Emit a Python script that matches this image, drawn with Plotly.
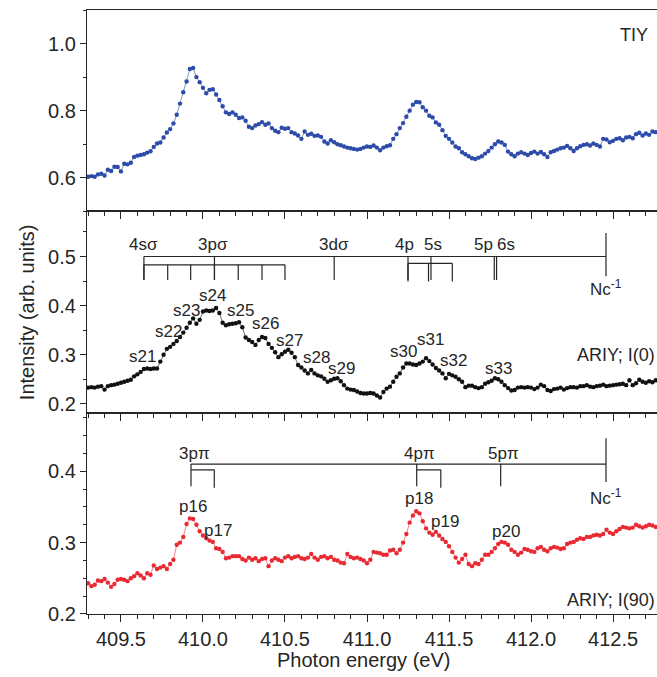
import numpy as np
import plotly.graph_objects as go

# ---------------- data ----------------
energy = np.round(409.30 + 0.02 * np.arange(174), 2)

tiy = [0.603, 0.605, 0.603, 0.610, 0.612, 0.607, 0.624, 0.620, 0.633, 0.632,
       0.619, 0.642, 0.640, 0.645, 0.662, 0.666, 0.668, 0.670, 0.675, 0.679,
       0.692, 0.702, 0.705, 0.720, 0.735, 0.745, 0.762, 0.788, 0.821, 0.855,
       0.887, 0.924, 0.927, 0.900, 0.885, 0.868, 0.852, 0.862, 0.864, 0.848,
       0.832, 0.813, 0.795, 0.790, 0.795, 0.788, 0.778, 0.780, 0.770, 0.752,
       0.748, 0.756, 0.760, 0.766, 0.758, 0.762, 0.748, 0.740, 0.736, 0.749,
       0.746, 0.748, 0.736, 0.732, 0.726, 0.716, 0.738, 0.728, 0.731, 0.725,
       0.726, 0.722, 0.708, 0.702, 0.712, 0.706, 0.700, 0.697, 0.693, 0.690,
       0.688, 0.686, 0.684, 0.686, 0.690, 0.693, 0.692, 0.696, 0.690, 0.682,
       0.690, 0.694, 0.697, 0.716, 0.730, 0.748, 0.763, 0.782, 0.800, 0.818,
       0.826, 0.825, 0.810, 0.800, 0.785, 0.780, 0.765, 0.758, 0.742, 0.725,
       0.716, 0.705, 0.693, 0.688, 0.676, 0.670, 0.664, 0.658, 0.656, 0.660,
       0.664, 0.672, 0.680, 0.690, 0.700, 0.708, 0.705, 0.698, 0.678, 0.670,
       0.664, 0.672, 0.676, 0.672, 0.668, 0.674, 0.678, 0.672, 0.677, 0.670,
       0.662, 0.676, 0.680, 0.684, 0.688, 0.690, 0.695, 0.688, 0.680, 0.688,
       0.694, 0.698, 0.700, 0.696, 0.702, 0.698, 0.693, 0.716, 0.714, 0.706,
       0.710, 0.716, 0.718, 0.712, 0.720, 0.722, 0.718, 0.730, 0.734, 0.726,
       0.732, 0.728, 0.738, 0.736]

ariy0 = [0.233, 0.234, 0.233, 0.235, 0.236, 0.229, 0.236, 0.238, 0.239, 0.241,
         0.243, 0.245, 0.247, 0.249, 0.256, 0.260, 0.265, 0.271, 0.272, 0.271,
         0.272, 0.272, 0.286, 0.300, 0.312, 0.316, 0.322, 0.328, 0.336, 0.345,
         0.355, 0.365, 0.374, 0.363, 0.371, 0.388, 0.390, 0.389, 0.390, 0.395,
         0.385, 0.365, 0.360, 0.362, 0.363, 0.364, 0.366, 0.356, 0.335, 0.330,
         0.326, 0.320, 0.330, 0.336, 0.334, 0.322, 0.314, 0.305, 0.295, 0.301,
         0.306, 0.310, 0.304, 0.295, 0.279, 0.274, 0.268, 0.262, 0.269, 0.262,
         0.258, 0.256, 0.251, 0.245, 0.248, 0.251, 0.252, 0.246, 0.238, 0.231,
         0.229, 0.228, 0.225, 0.222, 0.221, 0.221, 0.222, 0.221, 0.217, 0.213,
         0.224, 0.231, 0.235, 0.245, 0.255, 0.262, 0.274, 0.282, 0.282, 0.280,
         0.279, 0.282, 0.286, 0.293, 0.287, 0.280, 0.273, 0.268, 0.262, 0.252,
         0.261, 0.258, 0.255, 0.250, 0.245, 0.234, 0.237, 0.237, 0.234, 0.232,
         0.234, 0.241, 0.244, 0.247, 0.252, 0.250, 0.245, 0.238, 0.232, 0.227,
         0.228, 0.233, 0.234, 0.233, 0.234, 0.233, 0.230, 0.233, 0.239, 0.236,
         0.228, 0.226, 0.230, 0.231, 0.233, 0.229, 0.232, 0.234, 0.234, 0.233,
         0.236, 0.236, 0.238, 0.235, 0.234, 0.236, 0.237, 0.239, 0.236, 0.237,
         0.238, 0.239, 0.240, 0.241, 0.238, 0.248, 0.238, 0.242, 0.249, 0.245,
         0.243, 0.246, 0.244, 0.248]

ariy90 = [0.243, 0.239, 0.241, 0.247, 0.246, 0.249, 0.244, 0.238, 0.242, 0.248,
          0.249, 0.248, 0.246, 0.250, 0.253, 0.257, 0.254, 0.250, 0.257, 0.255,
          0.268, 0.263, 0.265, 0.267, 0.263, 0.270, 0.276, 0.297, 0.300, 0.308,
          0.326, 0.334, 0.333, 0.325, 0.316, 0.310, 0.306, 0.303, 0.301, 0.292,
          0.291, 0.287, 0.278, 0.279, 0.281, 0.281, 0.281, 0.277, 0.275, 0.279,
          0.276, 0.278, 0.274, 0.277, 0.278, 0.267, 0.275, 0.278, 0.276, 0.274,
          0.279, 0.281, 0.278, 0.280, 0.281, 0.278, 0.277, 0.279, 0.284, 0.279,
          0.276, 0.280, 0.281, 0.278, 0.280, 0.276, 0.275, 0.272, 0.271, 0.284,
          0.280, 0.278, 0.279, 0.277, 0.275, 0.271, 0.276, 0.287, 0.286, 0.285,
          0.283, 0.283, 0.289, 0.290, 0.285, 0.290, 0.300, 0.312, 0.328, 0.338,
          0.344, 0.341, 0.330, 0.320, 0.314, 0.311, 0.315, 0.310, 0.305, 0.301,
          0.295, 0.287, 0.279, 0.272, 0.277, 0.283, 0.270, 0.267, 0.271, 0.270,
          0.276, 0.283, 0.283, 0.287, 0.292, 0.298, 0.301, 0.300, 0.297, 0.290,
          0.287, 0.283, 0.286, 0.291, 0.290, 0.288, 0.287, 0.292, 0.294, 0.290,
          0.288, 0.292, 0.294, 0.293, 0.291, 0.292, 0.298, 0.300, 0.301, 0.304,
          0.306, 0.305, 0.308, 0.308, 0.310, 0.311, 0.310, 0.312, 0.318, 0.314,
          0.312, 0.316, 0.319, 0.322, 0.321, 0.320, 0.321, 0.325, 0.323, 0.321,
          0.323, 0.325, 0.324, 0.322]

# Rydberg level assignments (energies, eV)
sig_long = [409.64, 410.07, 410.80, 411.25, 411.39, 411.776, 411.79]
sig_sub_4s = [409.64, 409.785, 409.925, 410.07, 410.215, 410.36, 410.50]
sig_sub_4p = [411.25, 411.375, 411.52]
sig_labels = [(409.64, "4sσ"), (410.06, "3pσ"), (410.80, "3dσ"),
              (411.23, "4p"), (411.40, "5s"), (411.71, "5p"), (411.85, "6s")]
pi_long = [409.927, 411.303, 411.815]
pi_sub = [[409.927, 410.069], [411.303, 411.45]]
pi_labels = [(409.95, "3pπ"), (411.32, "4pπ"), (411.83, "5pπ")]
nc_limit = 412.457

s_peaks = [(409.63, 0.297, "s21"), (409.79, 0.348, "s22"), (409.90, 0.391, "s23"),
           (410.06, 0.420, "s24"), (410.226, 0.391, "s25"), (410.38, 0.363, "s26"),
           (410.53, 0.329, "s27"), (410.69, 0.295, "s28"), (410.846, 0.272, "s29"),
           (411.22, 0.306, "s30"), (411.39, 0.330, "s31"), (411.53, 0.288, "s32"),
           (411.80, 0.272, "s33")]
p_peaks = [(409.94, 0.350, "p16"), (410.09, 0.317, "p17"), (411.32, 0.362, "p18"),
           (411.476, 0.330, "p19"), (411.85, 0.315, "p20")]

# ---------------- figure ----------------
FONT = "Liberation Sans, Arial, sans-serif"
TXT = "#262626"
LINE = "#262626"

fig = go.Figure()
fig.add_trace(go.Scatter(x=energy, y=tiy, mode="lines+markers", xaxis="x3", yaxis="y",
                         line=dict(color="rgba(45,75,170,0.75)", width=0.8),
                         marker=dict(color="#2d4ba8", size=4.4)))
fig.add_trace(go.Scatter(x=energy, y=ariy0, mode="lines+markers", xaxis="x2", yaxis="y2",
                         line=dict(color="rgba(0,0,0,0.7)", width=0.8),
                         marker=dict(color="#111111", size=4.4)))
fig.add_trace(go.Scatter(x=energy, y=ariy90, mode="lines+markers", xaxis="x", yaxis="y3",
                         line=dict(color="rgba(235,40,50,0.75)", width=0.8),
                         marker=dict(color="#ea2a33", size=4.4)))

xr = [409.293, 412.768]
xcommon = dict(range=xr, showline=True, linecolor=LINE, linewidth=1.2, mirror=True,
               ticks="outside", ticklen=7, tickwidth=1.2, tickcolor=LINE, dtick=0.5, tick0=409.5,
               minor=dict(dtick=0.1, ticks="outside", ticklen=4, tickwidth=1.2, tickcolor=LINE),
               showgrid=False, zeroline=False)
ycommon = dict(showline=True, linecolor=LINE, linewidth=1.2, mirror=False,
               ticks="outside", ticklen=6, tickwidth=1.2, tickcolor=LINE,
               showgrid=False, zeroline=False, tickformat=".1f",
               tickfont=dict(family=FONT, size=20, color=TXT))

fig.update_layout(
    width=657, height=677, margin=dict(l=87, r=0, t=10, b=63),
    paper_bgcolor="white", plot_bgcolor="white", showlegend=False,
    font=dict(family=FONT, color=TXT),
    xaxis=dict(xcommon, anchor="y3", showticklabels=True,
               tickfont=dict(family=FONT, size=20, color=TXT), tickformat=".1f"),
    xaxis2=dict(xcommon, anchor="y2", matches="x", showticklabels=False),
    xaxis3=dict(xcommon, anchor="y", matches="x", showticklabels=False),
    yaxis=dict(ycommon, domain=[2 / 3, 1], range=[0.5, 1.1], dtick=0.2,
               minor=dict(dtick=0.1, ticks="outside", ticklen=3, tickwidth=1.2, tickcolor=LINE)),
    yaxis2=dict(ycommon, domain=[1 / 3, 2 / 3], range=[0.182, 0.592], dtick=0.1,
                minor=dict(dtick=0.05, ticks="outside", ticklen=3, tickwidth=1.2, tickcolor=LINE)),
    yaxis3=dict(ycommon, domain=[0, 1 / 3], range=[0.2, 0.482], dtick=0.1,
                minor=dict(dtick=0.025, ticks="outside", ticklen=3, tickwidth=1.2, tickcolor=LINE)),
)

shapes = []


def seg(x0, y0, x1, y1, yref, xref):
    shapes.append(dict(type="line", xref=xref, yref=yref, x0=x0, y0=y0, x1=x1, y1=y1,
                       line=dict(color=LINE, width=1.2)))


# panel 2 (sigma series)
seg(sig_long[0], 0.5, nc_limit, 0.5, "y2", "x2")
for e in sig_long:
    seg(e, 0.5, e, 0.452, "y2", "x2")
seg(sig_sub_4s[0], 0.483, sig_sub_4s[-1], 0.483, "y2", "x2")
for e in sig_sub_4s:
    seg(e, 0.483, e, 0.452, "y2", "x2")
seg(sig_sub_4p[0], 0.486, sig_sub_4p[-1], 0.486, "y2", "x2")
for e in sig_sub_4p:
    seg(e, 0.486, e, 0.449, "y2", "x2")
seg(nc_limit, 0.548, nc_limit, 0.460, "y2", "x2")

# panel 3 (pi series)
seg(pi_long[0], 0.41, nc_limit, 0.41, "y3", "x")
for e in pi_long:
    seg(e, 0.41, e, 0.379, "y3", "x")
for a, b in pi_sub:
    seg(a, 0.402, b, 0.402, "y3", "x")
    seg(b, 0.402, b, 0.377, "y3", "x")
seg(nc_limit, 0.446, nc_limit, 0.385, "y3", "x")
fig.update_layout(shapes=shapes)

ann = []
LBL = dict(family=FONT, size=17, color=TXT)
for e, t in sig_labels:
    ann.append(dict(x=e, y=0.525, xref="x2", yref="y2", text=t, showarrow=False, font=LBL))
ann.append(dict(x=nc_limit, y=0.436, xref="x2", yref="y2", text="Nc<sup>-1</sup>",
                showarrow=False, font=LBL))
for x, y, t in s_peaks:
    ann.append(dict(x=x, y=y, xref="x2", yref="y2", text=t, showarrow=False, font=LBL))
for e, t in pi_labels:
    ann.append(dict(x=e, y=0.425, xref="x", yref="y3", text=t, showarrow=False, font=LBL))
ann.append(dict(x=nc_limit, y=0.364, xref="x", yref="y3", text="Nc<sup>-1</sup>",
                showarrow=False, font=LBL))
for x, y, t in p_peaks:
    ann.append(dict(x=x, y=y, xref="x", yref="y3", text=t, showarrow=False, font=LBL))

BIG = dict(family=FONT, size=18, color=TXT)
ann.append(dict(x=412.63, y=1.027, xref="x3", yref="y", text="TIY", showarrow=False, font=BIG))
ann.append(dict(x=1.0, y=0.30, xref="paper", yref="y2", xanchor="right", text="ARIY; I(0)",
                showarrow=False, font=BIG))
ann.append(dict(x=1.0, y=0.22, xref="paper", yref="y3", xanchor="right", text="ARIY; I(90)",
                showarrow=False, font=BIG))
# axis titles
ann.append(dict(x=-0.105, y=0.5, xref="paper", yref="paper", text="Intensity (arb. units)",
                textangle=-90, showarrow=False, xanchor="center", yanchor="middle",
                font=dict(family=FONT, size=20, color=TXT)))
ann.append(dict(x=(363 - 87) / 570, y=-(660 - 614) / 604, xref="paper", yref="paper",
                text="Photon energy (eV)", showarrow=False, yanchor="middle",
                font=dict(family=FONT, size=20, color=TXT)))
fig.update_layout(annotations=ann)

fig.write_html("out.html")
